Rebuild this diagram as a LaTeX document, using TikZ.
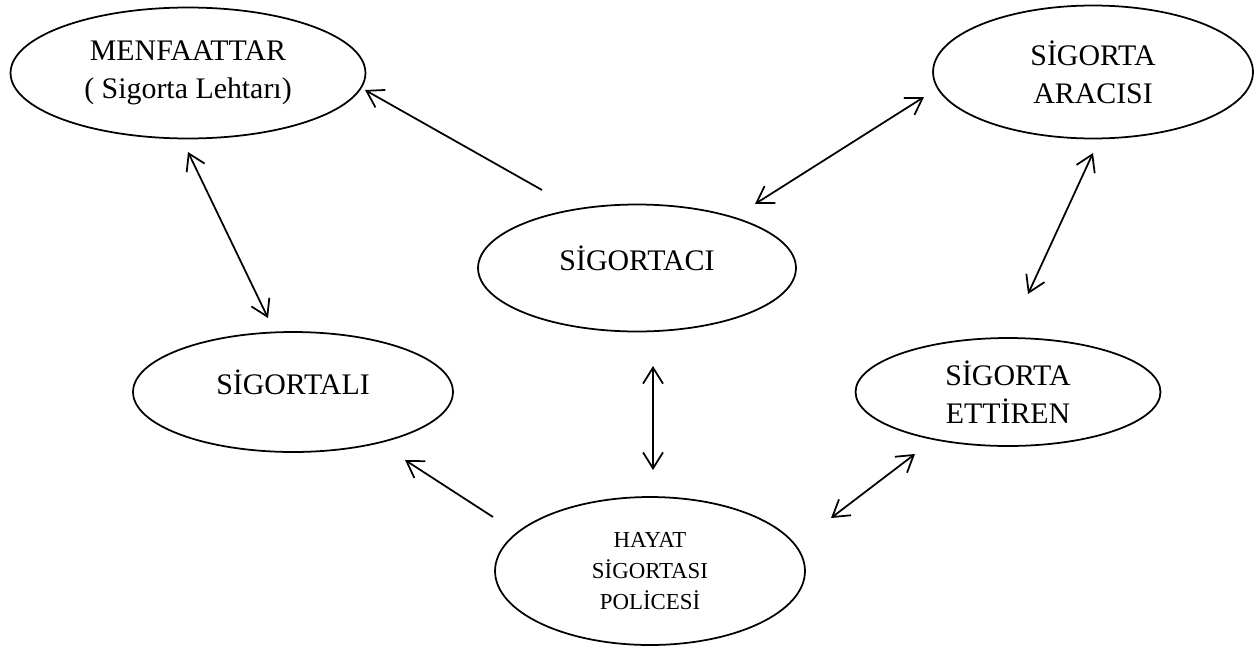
\documentclass[tikz,border=0pt]{standalone}
\usepackage{fontspec}
\setmainfont{Liberation Serif}
\usetikzlibrary{shapes,arrows.meta}

\begin{document}
\begin{tikzpicture}[x=0.02cm, y=-0.02cm,
    oval/.style={draw, ellipse, line width=1pt, inner sep=0pt, align=center,
                 font=\fontsize{17}{21.5}\selectfont},
    link/.style={line width=1pt},
    >={Straight Barb[length=0.32cm, width=0.4cm]}]
    \useasboundingbox (0, 0) rectangle (1256, 646);
    \draw (188, 73) node (men) [oval, minimum width=7.1cm, minimum height=2.62cm] {MENFAATTAR\\( Sigorta Lehtarı)}
          (1093, 72) node (ara) [oval, minimum width=6.4cm, minimum height=2.66cm] {SİGORTA\\ARACISI}
          (637, 268) node (sgc) [oval, minimum width=6.36cm, minimum height=2.54cm, text depth=0.4cm] {SİGORTACI}
          (293, 392) node (sgl) [oval, minimum width=6.4cm, minimum height=2.4cm, text depth=0.4cm] {SİGORTALI}
          (1008, 392) node (ett) [oval, minimum width=6.1cm, minimum height=2.16cm] {SİGORTA\\ETTİREN}
          (650, 571) node (hay) [oval, minimum width=6.2cm, minimum height=2.96cm,
                                 font=\fontsize{13}{17.5}\selectfont] {HAYAT\\SİGORTASI\\POLİCESİ};
    % arrow ends sit in the gaps between the ovals
    \coordinate (sgc-nw) at (542, 190);
    \coordinate (men-se) at (365, 90);
    \coordinate (men-s) at (188, 152);
    \coordinate (sgl-n) at (268, 318);
    \coordinate (sgc-ne) at (755, 204);
    \coordinate (ara-sw) at (924, 97);
    \coordinate (ara-s) at (1093, 153);
    \coordinate (ett-n) at (1028, 294);
    \coordinate (sgc-s) at (653, 366);
    \coordinate (hay-n) at (653, 470);
    \coordinate (hay-ne) at (831, 518);
    \coordinate (ett-sw) at (915, 454);
    \coordinate (hay-nw) at (493, 517);
    \coordinate (sgl-se) at (405, 460);
    \draw[link, ->] (sgc-nw) -- (men-se);
    \draw[link, ->] (hay-nw) -- (sgl-se);
    \draw[link, <->] (men-s) -- (sgl-n);
    \draw[link, <->] (sgc-ne) -- (ara-sw);
    \draw[link, <->] (ara-s) -- (ett-n);
    \draw[link, <->] (sgc-s) -- (hay-n);
    \draw[link, <->] (hay-ne) -- (ett-sw);
\end{tikzpicture}
\end{document}
